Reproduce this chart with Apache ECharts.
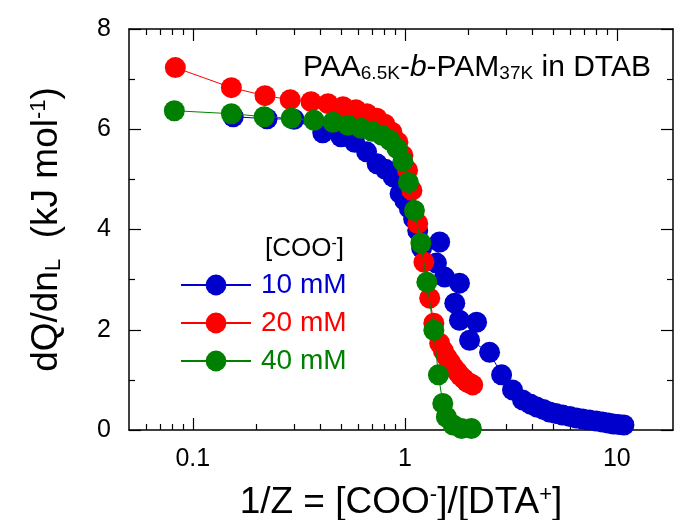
<!DOCTYPE html>
<html>
<head>
<meta charset="utf-8">
<script src="https://cdn.jsdelivr.net/npm/echarts@6/dist/echarts.min.js"></script>
<style>
  html, body { margin: 0; padding: 0; background: #fff; }
  #main { width: 674px; height: 520px; }
</style>
</head>
<body>
<div id="main"></div>
<script>
  // 10 mM
  var x10 = [0.155, 0.224, 0.30, 0.41, 0.50, 0.58, 0.66, 0.74, 0.81, 0.88, 0.95, 1.00, 1.05, 1.10, 1.15, 1.20,
    1.46, 1.41, 1.54, 1.81, 1.72, 1.81, 2.18, 2.02, 2.51, 2.86, 3.22, 3.59, 3.90, 4.18, 4.50, 4.81, 5.15,
    5.54, 6.0, 6.45, 6.9, 7.42, 8.0, 8.55, 9.1, 9.63, 10.2, 10.8]
  var y10 = [6.25, 6.21, 6.20, 5.93, 5.85, 5.74, 5.55, 5.31, 5.20, 5.05, 4.72, 4.58, 4.42, 4.22, 3.98, 3.63,
    3.75, 3.33, 3.05, 2.93, 2.53, 2.19, 2.15, 1.79, 1.55, 1.10, 0.80, 0.60, 0.52, 0.46, 0.41, 0.36, 0.33,
    0.30, 0.27, 0.24, 0.22, 0.20, 0.18, 0.16, 0.14, 0.12, 0.11, 0.10]
  // 20 mM
  var x20 = [0.0827, 0.152, 0.219, 0.288, 0.361, 0.434, 0.511, 0.588, 0.662, 0.738, 0.805, 0.869, 0.927, 0.979,
    1.03, 1.08, 1.15, 1.23, 1.31, 1.37, 1.46, 1.52, 1.58, 1.64, 1.70, 1.77, 1.83, 1.90, 1.96, 2.03, 2.09]
  var y20 = [7.23, 6.83, 6.67, 6.59, 6.55, 6.51, 6.45, 6.39, 6.31, 6.22, 6.10, 5.94, 5.74, 5.48,
    5.18, 4.78, 4.12, 3.35, 2.63, 2.13, 1.73, 1.58, 1.45, 1.35, 1.25, 1.16, 1.08, 1.02, 0.96, 0.93, 0.90]
  // 40 mM
  var x40 = [0.0818, 0.152, 0.217, 0.291, 0.373, 0.458, 0.539, 0.621, 0.700, 0.780, 0.850, 0.917, 0.979,
    1.04, 1.11, 1.19, 1.27, 1.37, 1.44, 1.51, 1.57, 1.69, 1.85, 2.06]
  var y40 = [6.37, 6.31, 6.25, 6.22, 6.18, 6.14, 6.08, 6.02, 5.96, 5.88, 5.78, 5.62, 5.36,
    4.94, 4.38, 3.73, 2.95, 1.99, 1.10, 0.53, 0.26, 0.10, 0.03, 0.03]

  var seriesNames = ['10 mM', '20 mM', '40 mM']
  var seriesColors = ['#0000cc', '#ff0000', '#008000']
  var xMajor = [0.1, 1, 10]
  var xMinor = [0.06, 0.07, 0.08, 0.09, 0.2, 0.3, 0.4, 0.5, 0.6, 0.7, 0.8, 0.9, 2, 3, 4, 5, 6, 7, 8, 9]

  function pairs(xs, ys) {
    return xs.map(function (v, i) { return [v, ys[i]] })
  }

  var font = 'Liberation Sans, Arial, sans-serif'
  var xMin = 0.05, xMax = 18.4

  function logAxis(pos, ticks, len, showLine, showLabel) {
    return {
      type: 'log', logBase: 10, position: pos, min: xMin, max: xMax,
      axisLine: { show: showLine, lineStyle: { color: '#000', width: 1.5 } },
      axisTick: { show: true, inside: true, length: len, customValues: ticks, lineStyle: { color: '#000', width: 1.2 } },
      axisLabel: {
        show: showLabel, customValues: ticks, margin: 17,
        color: '#000', fontSize: 25, fontFamily: font,
        formatter: function (v) { return String(+v.toPrecision(3)) }
      },
      splitLine: { show: false }, minorTick: { show: false }
    }
  }

  var xAxes = [
    logAxis('bottom', xMajor, 12, true, true),
    logAxis('bottom', xMinor, 6, false, false),
    logAxis('top', xMajor, 12, true, false),
    logAxis('top', xMinor, 6, false, false)
  ]
  xAxes[0].name = '1/Z = [COO{sup|-}]/[DTA{sup|+}]'
  xAxes[0].nameLocation = 'middle'
  xAxes[0].nameGap = 54
  xAxes[0].nameTextStyle = {
    color: '#000', fontSize: 37, fontFamily: font,
    rich: { sup: { fontSize: 22, verticalAlign: 'top', fontFamily: font, color: '#000' } }
  }

  function valAxis(pos, showLabel) {
    return {
      type: 'value', position: pos, min: 0, max: 8, interval: 2,
      axisLine: { show: true, lineStyle: { color: '#000', width: 1.5 } },
      axisTick: { show: true, inside: true, length: 12, lineStyle: { color: '#000', width: 1.2 } },
      minorTick: { show: true, splitNumber: 2, length: 6, lineStyle: { color: '#000', width: 1.2 } },
      axisLabel: { show: showLabel, color: '#000', fontSize: 25, fontFamily: font, margin: 18 },
      splitLine: { show: false }
    }
  }
  var yAxes = [valAxis('left', true), valAxis('right', false)]
  yAxes[0].name = 'dQ/dn{sub|L}  (kJ mol{sup|-1})'
  yAxes[0].nameLocation = 'middle'
  yAxes[0].nameGap = 64
  yAxes[0].nameTextStyle = {
    color: '#000', fontSize: 37, fontFamily: font,
    rich: {
      sub: { fontSize: 22, verticalAlign: 'bottom', fontFamily: font, color: '#000' },
      sup: { fontSize: 22, verticalAlign: 'top', fontFamily: font, color: '#000' }
    }
  }

  var allData = [pairs(x10, y10), pairs(x20, y20), pairs(x40, y40)]
  var series = seriesNames.map(function (n, i) {
    return {
      name: n, type: 'line', data: allData[i],
      symbol: 'circle', symbolSize: 21,
      lineStyle: { color: seriesColors[i], width: 1 },
      itemStyle: { color: seriesColors[i] },
      z: 2 + i
    }
  })

  var myChart = echarts.init(document.getElementById('main'))
  myChart.setOption({
    animation: false,
    backgroundColor: '#fff',
    grid: { left: 129, right: 1, top: 29, bottom: 90, outerBoundsMode: 'none' },
    xAxis: xAxes,
    yAxis: yAxes,
    legend: {
      orient: 'vertical', left: 180, top: 271, padding: 0,
      itemWidth: 70, itemHeight: 26, itemGap: 10,
      data: seriesNames.map(function (n, i) {
        return { name: n, textStyle: { color: seriesColors[i] } }
      }),
      textStyle: { fontSize: 28, fontFamily: font, padding: [0, 0, 0, 5] }
    },
    graphic: [
      {
        type: 'text', left: 303, top: 53,
        style: {
          text: 'PAA{sub|6.5K}-{it|b}-PAM{sub|37K} in DTAB',
          font: '30px ' + font, fill: '#000',
          rich: {
            sub: { fontSize: 19, verticalAlign: 'bottom', fontFamily: font, fill: '#000' },
            it: { fontSize: 30, fontStyle: 'italic', fontFamily: font, fill: '#000' }
          }
        }
      },
      {
        type: 'text', left: 265, top: 236,
        style: {
          text: '[COO{sup|-}]',
          font: '26px ' + font, fill: '#000',
          rich: { sup: { fontSize: 16, verticalAlign: 'top', fontFamily: font, fill: '#000' } }
        }
      }
    ],
    series: series
  })
</script>
</body>
</html>
